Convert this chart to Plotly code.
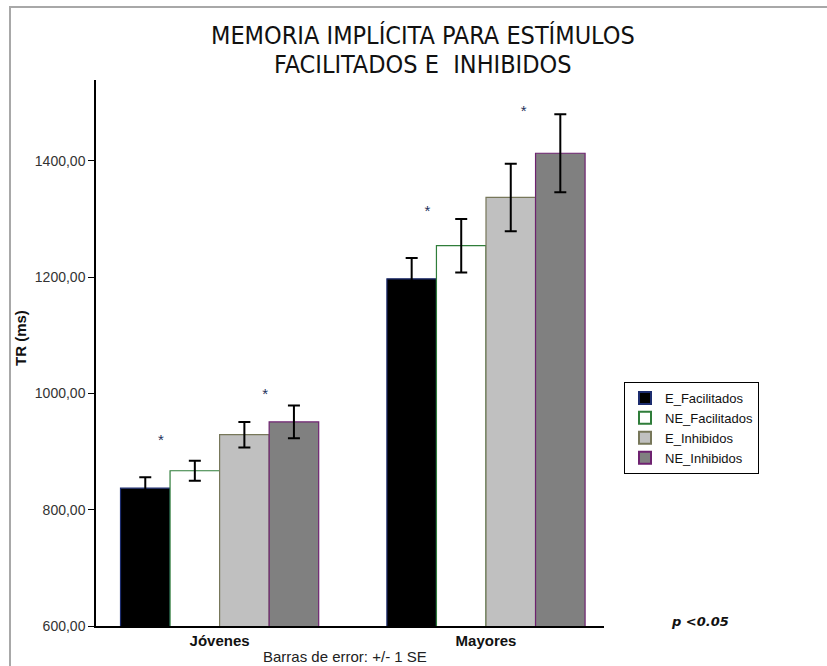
import plotly.graph_objects as go

# Group labels and series
groups = ["Jóvenes", "Mayores"]
series = ["E_Facilitados", "NE_Facilitados", "E_Inhibidos", "NE_Inhibidos"]

# Mean reaction time (ms) per series, one value per group
e_facilitados = [837, 1197]
ne_facilitados = [867, 1254]
e_inhibidos = [929, 1337]
ne_inhibidos = [951, 1413]

# Standard errors (+/- 1 SE)
se_e_facilitados = [19, 36]
se_ne_facilitados = [17, 46]
se_e_inhibidos = [22, 58]
se_ne_inhibidos = [28, 67]

# Y axis ticks
y_ticks = [600, 800, 1000, 1200, 1400]
y_tick_labels = ["600,00", "800,00", "1000,00", "1200,00", "1400,00"]

# Significance asterisks: (x position in category units, y value)
sig_x = [-0.22, 0.171, 0.78, 1.141]
sig_y = [918, 996, 1312, 1484]

means = [e_facilitados, ne_facilitados, e_inhibidos, ne_inhibidos]
errors = [se_e_facilitados, se_ne_facilitados, se_e_inhibidos, se_ne_inhibidos]
fills = ["#000000", "#ffffff", "#c0c0c0", "#808080"]
edges = ["#1c2c6e", "#2f7d3a", "#77775a", "#6e2270"]

fig = go.Figure()
for name, m, e, fc, ec in zip(series, means, errors, fills, edges):
    fig.add_trace(go.Bar(
        name=name, x=groups, y=m,
        marker=dict(color=fc, line=dict(color=ec, width=1.2)),
        error_y=dict(type="data", array=e, visible=True,
                     color="#000000", thickness=2, width=6),
    ))

fig.add_trace(go.Scatter(
    x=sig_x, y=sig_y, mode="text", text=["*"] * len(sig_x),
    textfont=dict(family="Liberation Sans", size=15, color="#23305a"),
    showlegend=False, hoverinfo="skip", xaxis="x2",
))

L, T, B, R = 96, 80, 40, 223
W, H = 827, 666
pw, ph = W - L - R, H - T - B


def px_x(p):
    return (p - L) / pw


def px_y(p):
    return (H - B - p) / ph


fig.update_layout(
    width=W, height=H,
    margin=dict(l=L, r=R, t=T, b=B),
    paper_bgcolor="white", plot_bgcolor="white",
    barmode="group", bargap=0.256, bargroupgap=0,
    font=dict(family="Liberation Sans", color="#222222"),
    xaxis=dict(
        range=[-0.464, 1.443], showline=True, linecolor="#000000", linewidth=1.5,
        ticks="", showgrid=False, zeroline=False,
        tickfont=dict(family="Liberation Sans", size=15, color="#111111"),
        tickvals=groups, ticktext=["<b>%s</b>" % g for g in groups],
    ),
    xaxis2=dict(range=[-0.464, 1.443], overlaying="x", visible=False),
    yaxis=dict(
        range=[600, 1539], showline=True, linecolor="#000000", linewidth=1.5,
        ticks="outside", ticklen=6, tickcolor="#000000", tickwidth=1.2,
        showgrid=False, zeroline=False,
        tickvals=y_ticks, ticktext=y_tick_labels,
        tickfont=dict(family="Liberation Sans", size=14, color="#333333"),
    ),
    legend=dict(
        x=px_x(624), y=px_y(382), xanchor="left", yanchor="top",
        bordercolor="#000000", borderwidth=1, bgcolor="white",
        font=dict(family="Liberation Sans", size=13, color="#111111"),
        tracegroupgap=0, itemsizing="constant",
    ),
    showlegend=True,
)

title_font = dict(family="DejaVu Sans Condensed, Liberation Sans Narrow", size=25,
                  color="#111111")
fig.add_annotation(text="MEMORIA IMPLÍCITA PARA ESTÍMULOS", x=px_x(423), y=px_y(35),
                   xref="paper", yref="paper", showarrow=False, font=title_font,
                   xanchor="center", yanchor="middle")
fig.add_annotation(text="FACILITADOS E  INHIBIDOS", x=px_x(423), y=px_y(64),
                   xref="paper", yref="paper", showarrow=False, font=title_font,
                   xanchor="center", yanchor="middle")
fig.add_annotation(text="<b>TR (ms)</b>", x=px_x(20), y=px_y(338), textangle=-90,
                   xref="paper", yref="paper", showarrow=False,
                   font=dict(family="Liberation Sans", size=15, color="#111111"),
                   xanchor="center", yanchor="middle")
fig.add_annotation(text="Barras de error: +/- 1 SE", x=px_x(345), y=px_y(656),
                   xref="paper", yref="paper", showarrow=False,
                   font=dict(family="Liberation Sans", size=15, color="#222222"),
                   xanchor="center", yanchor="middle")
fig.add_annotation(text="<b><i>p <0.05</i></b>", x=px_x(700), y=px_y(621),
                   xref="paper", yref="paper", showarrow=False,
                   font=dict(family="DejaVu Sans", size=13, color="#111111"),
                   xanchor="center", yanchor="middle")

# Outer frame lines (left and top)
fig.add_shape(type="line", xref="paper", yref="paper",
              x0=px_x(10), x1=px_x(10), y0=px_y(7), y1=px_y(670),
              line=dict(color="#a8a8a8", width=2))
fig.add_shape(type="line", xref="paper", yref="paper",
              x0=px_x(9), x1=px_x(830), y0=px_y(7), y1=px_y(7),
              line=dict(color="#a8a8a8", width=2))

fig.write_html("out.html")
